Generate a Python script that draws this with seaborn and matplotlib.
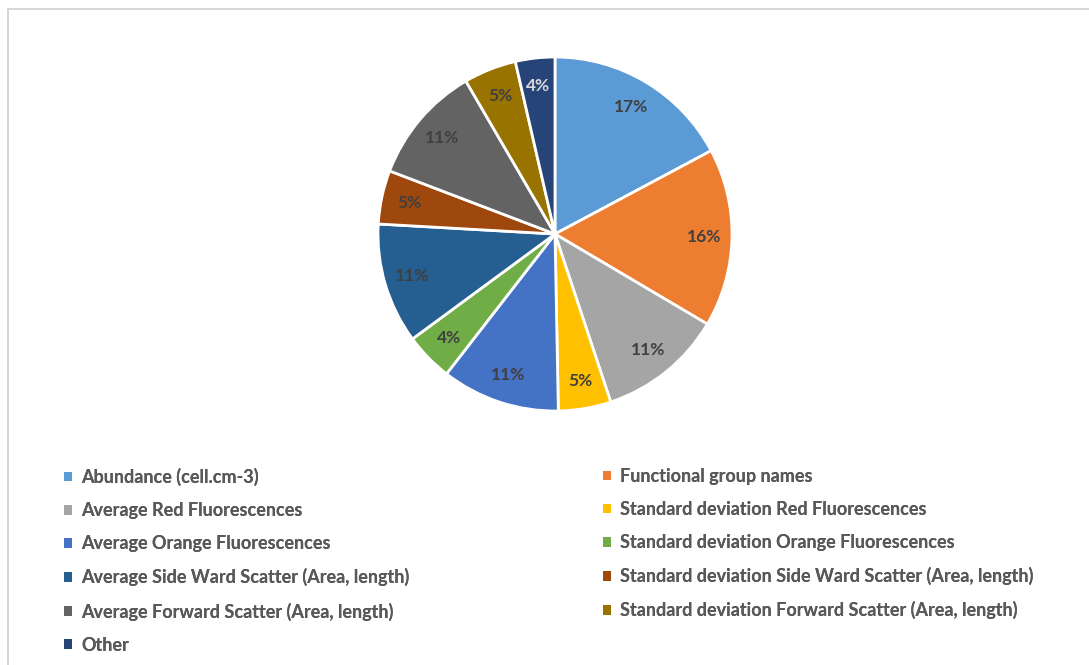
import matplotlib
matplotlib.use("Agg")
import matplotlib.pyplot as plt
from matplotlib.patches import Patch, Rectangle
import seaborn as sns

sns.set_theme(style="white")
plt.rcParams['font.family'] = ['Lato', 'DejaVu Sans']

# === Data ===
labels = [
    "Abundance (cell.cm-3)",
    "Functional group names",
    "Average Red Fluorescences",
    "Standard deviation Red Fluorescences",
    "Average Orange Fluorescences",
    "Standard deviation Orange Fluorescences",
    "Average Side Ward Scatter (Area, length)",
    "Standard deviation Side Ward Scatter (Area, length)",
    "Average Forward Scatter (Area, length)",
    "Standard deviation Forward Scatter (Area, length)",
    "Other",
]
shares = [17.2, 16.3, 11.4, 4.8, 10.8, 4.4, 11.0, 4.9, 10.8, 4.8, 3.6]
colors = ["#5B9BD5", "#ED7D31", "#A5A5A5", "#FFC000", "#4472C4", "#70AD47",
          "#255E91", "#9E480E", "#636363", "#997300", "#264478"]
palette = sns.color_palette(colors)

W, H = 1089, 665
fig = plt.figure(figsize=(W / 100, H / 100), dpi=100)

# light chart-area border (left and top visible)
fig.patches.append(Rectangle((8 / W, -0.1), 1.2, 1 - 9 / H + 0.1, transform=fig.transFigure,
                             fill=False, edgecolor="#D0D0D0", linewidth=1.2))

# pie axes: center ~ (555, 234) px, radius ~177 px
cx, cy, r = 555, 234, 177
ax = fig.add_axes([(cx - r) / W, (H - cy - r) / H, 2 * r / W, 2 * r / H])
wedges, texts, autotexts = ax.pie(
    shares, colors=palette, startangle=90, counterclock=False,
    autopct="%.0f%%", pctdistance=0.84,
    wedgeprops=dict(edgecolor="white", linewidth=2),
    textprops=dict(fontsize=12.5, fontweight="bold", color="#404040"),
)
autotexts[-1].set_color("#D9D9D9")
ax.set_xlim(-1, 1)
ax.set_ylim(-1, 1)
ax.set_aspect("equal")

# legend in two columns, read row-wise
handles = [Patch(facecolor=c, edgecolor="none") for c in palette]
col_x = [64, 603]
for k, x0 in enumerate(col_x):
    idx = list(range(k, len(labels), 2))
    leg = fig.legend([handles[i] for i in idx], [labels[i] for i in idx],
                     loc="upper left", bbox_to_anchor=(x0 / W, 1 - 468 / H),
                     frameon=False, borderpad=0, borderaxespad=0,
                     handlelength=0.45, handleheight=0.45, handletextpad=0.5,
                     labelspacing=0.89,
                     prop=dict(size=13, weight="bold"))
    for t in leg.get_texts():
        t.set_color("#595959")
    fig.add_artist(leg)

fig.savefig("out.png", dpi=100)
